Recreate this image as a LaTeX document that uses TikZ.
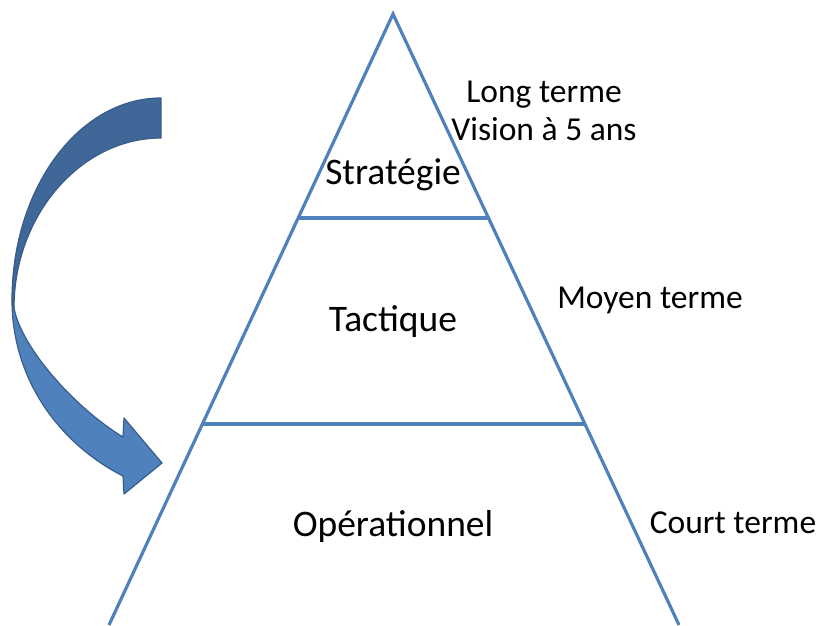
\documentclass[tikz,border=0pt]{standalone}
\usepackage{fontspec}
\setmainfont{Carlito}
\usetikzlibrary{calc}

\definecolor{pyrblue}{HTML}{4F81BD}
\definecolor{arrowdark}{HTML}{3F6797}
\definecolor{arrowedge}{HTML}{385D8A}

\tikzset{
  side/.style={draw=pyrblue, line width=3.2pt},
  level/.style={font=\fontsize{37.5}{42}\selectfont, inner sep=0pt},
  horizon/.style={font=\fontsize{33.5}{38}\selectfont, align=center, inner sep=0pt},
  bentarrow/.style={draw=arrowedge, line width=1.2pt, line join=round},
}

\begin{document}
\begin{tikzpicture}[x=1pt,y=-1pt]
    \useasboundingbox (0,0) rectangle (821,625);

    % draw pyramid sides
    \coordinate (apex) at (393,14);
    \coordinate (bl) at (109,625);
    \coordinate (br) at (679,625);
    \draw[side] (bl) -- (apex) -- (br);

    % draw band lines
    \foreach \f/\n in {0.334/top,0.671/mid}{
      \coordinate (\n-l) at ($(apex)!\f!(bl)$);
      \coordinate (\n-r) at ($(apex)!\f!(br)$);
      \draw[side] (\n-l) -- (\n-r);
    }

    % draw curved arrow
    \coordinate (bendout) at (12,300);
    \coordinate (bendin) at (14,308);
    \coordinate (tailout) at (161,98);
    \coordinate (tailin) at (161,138);
    \coordinate (baseout) at (123,476);
    \coordinate (basein) at (123,437);
    \coordinate (tip) at (162,463);
    \filldraw[bentarrow, fill=pyrblue] (bendout) .. controls (12,380) and (60,444) .. (baseout)
      -- (124,494) -- (tip) -- (124,418) -- (basein)
      .. controls (78,410) and (22,350) .. (bendin) -- cycle;
    \filldraw[bentarrow, fill=arrowdark] (tailout) .. controls (79,98) and (12,188) .. (bendout)
      -- (bendin) .. controls (14,215) and (81,138) .. (tailin) -- cycle;

    % draw nodes
    \node[level] (strat) at (393,175) {Stratégie};
    \node[level] (tact) at (393,322) {Tactique};
    \node[level] (oper) at (393,526) {Opérationnel};
    \node[horizon] (long) at (544,111) {Long terme\\Vision à 5 ans};
    \node[horizon] (moyen) at (650,300) {Moyen terme};
    \node[horizon] (court) at (733,523) {Court terme};
\end{tikzpicture}
\end{document}
